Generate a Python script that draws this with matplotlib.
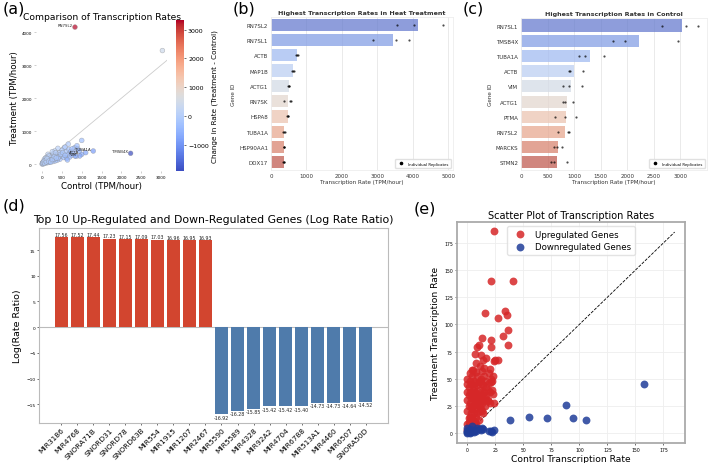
import matplotlib
matplotlib.use("Agg")
import matplotlib.pyplot as plt
import numpy as np
import seaborn as sns
from matplotlib.colors import Normalize
from matplotlib.cm import ScalarMappable
from matplotlib.lines import Line2D

plt.rcParams['font.family'] = ['DejaVu Sans']

# ---------------- Panel (a) data ----------------
a_control = [830, 3030, 2230, 1290, 1000, 660, 820, 900, 1000, 950, 860, 830, 700, 640, 600, 560,
             500, 450, 400, 380, 350, 320, 300, 280, 250, 230, 200, 180, 160, 150, 140, 120,
             100, 90, 80, 70, 60, 50, 40, 30, 20, 10, 5, 450, 500, 550, 620, 700, 750, 800,
             420, 380, 330, 270, 240, 210, 190, 170, 130, 110, 260, 340, 480, 520, 580, 680,
             720, 400, 300, 200, 150, 100, 60, 880, 940, 1100, 640, 580, 760, 35, 15, 25, 45,
             65, 85, 110, 130, 170, 220, 260, 310, 360]
a_treatment = [4150, 3440, 330, 400, 720, 610, 500, 470, 300, 250, 240, 250, 350, 300, 400, 500,
               420, 350, 480, 300, 250, 400, 200, 320, 280, 150, 250, 180, 120, 300, 220, 150,
               100, 180, 60, 130, 90, 40, 70, 30, 50, 20, 5, 150, 250, 200, 180, 220, 280, 380,
               220, 120, 100, 80, 200, 90, 60, 250, 80, 40, 380, 350, 300, 350, 270, 450,
               380, 180, 150, 130, 50, 200, 150, 560, 400, 350, 130, 520, 470, 10, 35, 60, 90,
               30, 110, 70, 170, 90, 60, 140, 230, 190]
a_labels = {"RN7SL2": (830, 4150), "TMSB4X": (2230, 330), "TUBA1A": (1290, 400),
            "ACTB": (1000, 300), "VIM": (950, 250)}

# ---------------- Panel (b) data ----------------
b_genes = ["RN7SL2", "RN7SL1", "ACTB", "MAP1B", "ACTG1", "RN7SK", "HSPA8", "TUBA1A", "HSP90AA1", "DDX17"]
b_means = [4150, 3430, 720, 610, 500, 490, 470, 380, 370, 360]
b_reps = [[3560, 4040, 4850], [2870, 3530, 3880], [700, 720, 750], [600, 620, 650],
          [480, 500, 515], [380, 530, 560], [455, 470, 490], [350, 380, 400],
          [355, 370, 380], [345, 360, 380]]

# ---------------- Panel (c) data ----------------
c_genes = ["RN7SL1", "TMSB4X", "TUBA1A", "ACTB", "VIM", "ACTG1", "PTMA", "RN7SL2", "MARCKS", "STMN2"]
c_means = [3030, 2230, 1290, 1000, 950, 860, 840, 830, 700, 680]
c_reps = [[2650, 3100, 3330], [1730, 1960, 2960], [1100, 1200, 1570], [900, 920, 1170],
          [800, 900, 1150], [800, 820, 970], [640, 820, 1030], [700, 880, 900],
          [620, 680, 780], [570, 630, 860]]

# ---------------- Panel (d) data ----------------
d_genes = ["MIR3186", "MIR4768", "SNORA71B", "SNORD31", "SNORD78", "SNORD63B", "MIR554", "MIR1915",
           "MIR1207", "MIR2467", "MIR5590", "MIR5589", "MIR4328", "MIR92A2", "MIR4704", "MIR6788",
           "MIR513A1", "MIR4460", "MIR6507", "SNORA50D"]
d_values = [17.56, 17.52, 17.44, 17.23, 17.15, 17.09, 17.03, 16.96, 16.95, 16.93,
            -16.92, -16.28, -15.85, -15.42, -15.42, -15.40, -14.73, -14.73, -14.64, -14.52]

# ---------------- Panel (e) data ----------------
e_up_control = [0, 1, 2, 0, 1, 0, 2, 1, 0, 3, 3, 4, 2, 4, 3, 5, 4, 5, 6, 5, 6, 7, 6, 7, 8, 7, 8, 9, 9,
                10, 9, 10, 11, 11, 12, 12, 13, 13, 14, 14, 15, 15, 16, 16, 17, 17, 18, 19, 20, 20, 21,
                22, 23, 1, 2, 3, 4, 5, 6, 7, 8, 9, 10, 11, 12, 13, 8, 6, 2, 1, 0, 3, 4, 10, 14, 18, 16,
                12, 11, 15, 2, 0, 5, 8, 3, 1, 0, 7, 9, 13, 22,
                24, 21, 41, 16, 34, 35, 27, 36, 32, 13, 21, 36, 10, 9, 21, 7, 12, 17, 25, 27, 24, 14,
                20, 23, 21, 13, 24, 18, 11, 15, 8, 4, 19]
e_up_treatment = [50, 42, 38, 30, 25, 20, 15, 10, 8, 5, 45, 35, 28, 22, 18, 12, 8, 40, 30, 25, 18, 10,
                  48, 38, 28, 22, 15, 44, 33, 25, 18, 12, 40, 30, 22, 50, 35, 28, 44, 18, 38, 30, 48,
                  25, 42, 35, 30, 46, 38, 28, 50, 40, 36, 35, 48, 32, 52, 33, 42, 46, 36, 52, 47, 20,
                  38, 45, 8, 6, 2, 14, 38, 24, 14, 35, 30, 40, 32, 30, 48, 52, 55, 45, 58, 56, 12, 6,
                  3, 28, 26, 20, 48,
                  186, 140, 140, 110, 112, 109, 106, 95, 89, 87, 86, 81, 81, 79, 79, 73, 72, 69, 67, 67,
                  66, 67, 59, 52, 47, 57, 28, 29, 62, 60, 64, 58, 55]
e_down_control = [158, 88, 106, 94, 71, 55, 38, 24, 21, 22, 13, 0, 1, 2, 5, 7, 3, 1, 0, 9, 4, 0, 2, 6,
                  11, 8, 12, 19, 14, 0]
e_down_treatment = [45, 26, 12, 14, 14, 15, 12, 3, 2, 1, 5, 0, 3, 4, 2, 3, 1, 1, 5, 5, 6, 2, 0, 1,
                    4, 2, 3, 2, 4, 1]

fig = plt.figure(figsize=(7.09, 4.64), dpi=100)

# ================= Panel (a) =================
axa = fig.add_axes([0.0508, 0.629, 0.185, 0.319])
a_c = np.array(a_control)
a_t = np.array(a_treatment)
delta = a_t - a_c
norm = Normalize(vmin=delta.min(), vmax=delta.max())
cmap = plt.get_cmap('coolwarm')
axa.scatter(a_c, a_t, c=delta, cmap=cmap, norm=norm, s=12, alpha=0.7,
            edgecolors='#888888', linewidths=0.3, zorder=3)
mx = 3150
axa.plot([0, mx], [0, mx], color='#cccccc', lw=0.6, zorder=1)
for name, (x, y) in a_labels.items():
    axa.text(x - 60, y, name, fontsize=2.8, ha='right', va='bottom', color='#222222', zorder=4)
axa.set_xlim(-150, 3150)
axa.set_ylim(-210, 4270)
axa.set_xticks([0, 500, 1000, 1500, 2000, 2500, 3000])
axa.set_yticks([0, 1000, 2000, 3000, 4000])
axa.tick_params(labelsize=3, length=1.5, width=0.4, pad=1.5, color='#aaaaaa')
for s in axa.spines.values():
    s.set_visible(False)
axa.set_xlabel("Control (TPM/hour)", fontsize=6.2, labelpad=1)
axa.set_ylabel("Treatment (TPM/hour)", fontsize=6.2, labelpad=2)
axa.set_title("Comparison of Transcription Rates", fontsize=6.6, pad=3)

cax = fig.add_axes([0.248, 0.629, 0.0113, 0.325])
cb = fig.colorbar(ScalarMappable(norm=norm, cmap=cmap), cax=cax)
cb.set_ticks([-1000, 0, 1000, 2000, 3000])
cb.ax.tick_params(labelsize=4.5, length=1.5, width=0.4, pad=1.5)
cb.outline.set_visible(False)
cb.set_label("Change in Rate (Treatment - Control)", fontsize=5.2, labelpad=2)

# ================= Panels (b), (c) =================
pal = [sns.desaturate(c, 0.75) for c in sns.color_palette("coolwarm", 10)]


def bar_panel(rect, genes, means, reps, title, xmax, xticks):
    ax = fig.add_axes(rect)
    y = np.arange(len(genes))
    ax.barh(y, means, color=pal, alpha=0.75, height=0.8, zorder=2)
    for i, r in enumerate(reps):
        ax.scatter(r, [i] * len(r), color='black', s=2.5, alpha=0.7, zorder=3, linewidths=0)
    ax.set_yticks(y)
    ax.set_yticklabels(genes)
    ax.set_ylim(len(genes) - 0.5, -0.5)
    ax.set_xlim(0, xmax)
    ax.set_xticks(xticks)
    ax.grid(axis='x', color='#e6e6e6', lw=0.6, zorder=0)
    ax.set_axisbelow(True)
    for s in ax.spines.values():
        s.set_color('#eeeeee')
        s.set_linewidth(0.6)
    ax.tick_params(labelsize=4, length=0, pad=2, colors='#333333')
    ax.set_xlabel("Transcription Rate (TPM/hour)", fontsize=4.1, labelpad=1, color='#333333')
    ax.set_ylabel("Gene ID", fontsize=4.1, labelpad=2, color='#333333')
    ax.set_title(title, fontsize=4.6, fontweight='bold', pad=2, color='#333333')
    h = [Line2D([], [], marker='o', color='black', ls='', markersize=1.6)]
    ax.legend(h, ["Individual Replicates"], loc='lower right', fontsize=2.8,
              frameon=True, framealpha=0.9, edgecolor='#dddddd', handletextpad=0.8,
              borderpad=0.6)
    return ax


bar_panel([0.3822, 0.6315, 0.2567, 0.3297], b_genes, b_means, b_reps,
          "Highest Transcription Rates in Heat Treatment", 5130,
          [0, 1000, 2000, 3000, 4000, 5000])
bar_panel([0.7348, 0.6315, 0.2623, 0.3276], c_genes, c_means, c_reps,
          "Highest Transcription Rates in Control", 3500,
          [0, 500, 1000, 1500, 2000, 2500, 3000])

# ================= Panel (d) =================
axd = fig.add_axes([0.055, 0.0862, 0.4922, 0.4203])
xd = np.arange(len(d_genes))
colors_d = ['#d2452f' if v > 0 else '#4f7bab' for v in d_values]
axd.bar(xd, d_values, color=colors_d, width=0.8, zorder=2)
axd.axhline(0, color='#bbbbbb', lw=0.8, zorder=1)
for xi, v in zip(xd, d_values):
    axd.text(xi, v + (0.05 if v > 0 else -0.1), f"{v:.2f}", ha='center',
             va='bottom' if v > 0 else 'top', fontsize=3.4, color='#222222')
axd.set_xticks(xd)
axd.set_xticklabels(d_genes, rotation=45, ha='right', rotation_mode='anchor', fontsize=5.4)
axd.set_yticks([-15, -10, -5, 0, 5, 10, 15])
axd.tick_params(axis='y', labelsize=3.2, length=1.5, width=0.4, pad=1)
axd.tick_params(axis='x', length=1.5, width=0.4, pad=1)
for s in axd.spines.values():
    s.set_color('#bbbbbb')
    s.set_linewidth(0.8)
axd.set_ylabel("Log(Rate Ratio)", fontsize=6.8, labelpad=3)
axd.set_title("Top 10 Up-Regulated and Down-Regulated Genes (Log Rate Ratio)", fontsize=7.8, pad=4)

# ================= Panel (e) =================
axe = fig.add_axes([0.6446, 0.0431, 0.3216, 0.4763])
axe.scatter(e_up_control, e_up_treatment, color='#d62728', s=32, alpha=0.85,
            linewidths=0, label='Upregulated Genes', zorder=3)
axe.scatter(e_down_control, e_down_treatment, color='#1f3d99', s=32, alpha=0.85,
            linewidths=0, label='Downregulated Genes', zorder=3)
lim = 185
axe.plot([0, lim], [0, lim], color='black', ls='--', lw=0.6, zorder=2)
axe.set_xlim(-9.25, 194.25)
axe.set_ylim(-9.25, 194.25)
axe.set_xticks([0, 25, 50, 75, 100, 125, 150, 175])
axe.set_yticks([0, 25, 50, 75, 100, 125, 150, 175])
axe.grid(True, color='#eeeeee', lw=0.6, zorder=0)
axe.set_axisbelow(True)
axe.tick_params(labelsize=3.3, length=1.5, width=0.4, pad=1.5)
for s in axe.spines.values():
    s.set_color('#aaaaaa')
    s.set_linewidth(1.3)
axe.set_xlabel("Control Transcription Rate", fontsize=6.6, labelpad=1)
axe.set_ylabel("Treatment Transcription Rate", fontsize=6.6, labelpad=3)
axe.set_title("Scatter Plot of Transcription Rates", fontsize=7, pad=3)
axe.legend(loc='upper center', fontsize=6.2, frameon=True, edgecolor='#dddddd',
           handletextpad=0.8, borderpad=0.4, labelspacing=0.4)

# ================= Panel labels =================
fig.text(0.003, 0.997, "(a)", fontsize=11.5, va='top')
fig.text(0.328, 0.997, "(b)", fontsize=11.5, va='top')
fig.text(0.652, 0.997, "(c)", fontsize=11.5, va='top')
fig.text(0.003, 0.572, "(d)", fontsize=11.5, va='top')
fig.text(0.583, 0.566, "(e)", fontsize=11.5, va='top')

fig.savefig("out.png", dpi=100)
